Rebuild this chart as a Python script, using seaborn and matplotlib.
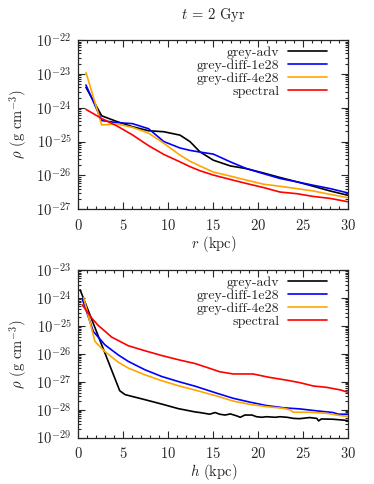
import numpy as np
import pandas as pd
import matplotlib
matplotlib.use("Agg")
import matplotlib.pyplot as plt
from matplotlib.ticker import MultipleLocator, LogLocator, NullFormatter
import seaborn as sns

sns.set_style("ticks")
plt.rcParams["font.family"] = "serif"
plt.rcParams["font.serif"] = ["cmr10"]
plt.rcParams["mathtext.fontset"] = "cm"
plt.rcParams["axes.formatter.use_mathtext"] = True

labels = ["grey-adv", "grey-diff-1e28", "grey-diff-4e28", "spectral"]
colors = ["black", "#0000ff", "#ffa500", "#ff0000"]

# top panel: density vs radius r (kpc), values are log10(rho)
r_top = [0.85, 2.6, 4.3, 6.0, 7.8, 9.5, 11.3, 12.4, 13.5, 15.0, 16.9, 18.7,
         20.6, 22.4, 24.3, 26.1, 28.0, 30.0]
top_adv = [-23.40, -24.24, -24.41, -24.56, -24.68, -24.71, -24.81, -25.00, -25.30,
           -25.55, -25.72, -25.80, -25.93, -26.06, -26.19, -26.32, -26.46, -26.59]
top_d1 = [-23.33, -24.38, -24.44, -24.47, -24.62, -25.00, -25.19, -25.26, -25.31,
          -25.37, -25.60, -25.80, -25.95, -26.09, -26.19, -26.29, -26.39, -26.52]
top_d4 = [-22.96, -24.51, -24.48, -24.58, -24.75, -25.05, -25.40, -25.58, -25.72,
          -25.90, -26.02, -26.14, -26.26, -26.32, -26.39, -26.46, -26.56, -26.66]
top_spec = [-24.05, -24.32, -24.54, -24.80, -25.12, -25.38, -25.60, -25.74, -25.86,
            -25.99, -26.12, -26.24, -26.36, -26.49, -26.54, -26.62, -26.68, -26.78]

# bottom panel: density vs height h (kpc), values are log10(rho)
h_adv = [0.2, 4.6, 5.2, 7.4, 9.3, 11.1, 13.0, 13.5, 14.6, 15.2, 15.7, 16.3, 16.9,
         17.6, 18.0, 18.5, 19.3, 19.8, 20.4, 20.9, 21.9, 22.4, 23.2, 23.9, 24.6,
         25.7, 26.5, 26.7, 27.0, 28.3, 29.4, 30.0]
bot_adv = [-23.71, -27.32, -27.46, -27.64, -27.80, -27.96, -28.08, -28.10, -28.16,
           -28.10, -28.16, -28.19, -28.15, -28.22, -28.27, -28.19, -28.19, -28.25,
           -28.27, -28.25, -28.27, -28.25, -28.27, -28.31, -28.32, -28.28, -28.31,
           -28.40, -28.33, -28.34, -28.37, -28.39]
h_d1 = [0.45, 1.67, 2.96, 4.44, 5.55, 7.4, 9.26, 11.1, 13.0, 15.4, 17.2, 19.1,
        20.9, 22.8, 24.6, 26.5, 28.3, 28.9, 30.0]
bot_d1 = [-24.05, -25.20, -25.68, -26.04, -26.27, -26.57, -26.81, -26.99, -27.16,
          -27.41, -27.59, -27.73, -27.85, -27.93, -27.97, -28.04, -28.10, -28.16, -28.16]
h_d4 = [0.6, 1.85, 2.96, 4.44, 5.55, 7.4, 9.26, 11.1, 13.0, 15.4, 17.2, 19.1,
        20.9, 22.8, 23.5, 23.9, 25.7, 27.6, 29.1, 30.0]
bot_d4 = [-24.00, -25.56, -25.92, -26.30, -26.51, -26.75, -26.96, -27.14, -27.30,
          -27.51, -27.69, -27.81, -27.89, -27.95, -28.00, -28.09, -28.09, -28.13,
          -28.21, -28.24]
h_spec = [0.44, 1.48, 2.2, 3.7, 5.55, 7.4, 9.26, 11.1, 13.0, 14.6, 15.7, 17.2,
          18.3, 19.4, 20.0, 21.2, 23.1, 24.6, 26.1, 27.6, 29.1, 30.0]
bot_spec = [-24.25, -24.72, -24.98, -25.40, -25.71, -25.89, -26.06, -26.21, -26.35,
            -26.52, -26.64, -26.72, -26.72, -26.72, -26.76, -26.84, -26.94, -27.03,
            -27.15, -27.20, -27.29, -27.38]


def long_df(xs, ys, xname):
    parts = []
    for lab, x, y in zip(labels, xs, ys):
        parts.append(pd.DataFrame({xname: x, "rho": 10.0 ** np.array(y), "run": lab}))
    return pd.concat(parts, ignore_index=True)


df_top = long_df([r_top] * 4, [top_adv, top_d1, top_d4, top_spec], "r")
df_bot = long_df([h_adv, h_d1, h_d4, h_spec], [bot_adv, bot_d1, bot_d4, bot_spec], "h")

fig = plt.figure(figsize=(3.74, 4.84), dpi=100)
ax1 = fig.add_axes([0.2094, 0.5676, 0.7219, 0.3498])
ax2 = fig.add_axes([0.2094, 0.0957, 0.7219, 0.3465])

pal = dict(zip(labels, colors))
sns.lineplot(data=df_top, x="r", y="rho", hue="run", palette=pal, lw=1.2, ax=ax1)
sns.lineplot(data=df_bot, x="h", y="rho", hue="run", palette=pal, lw=1.2, ax=ax2)

fs = 10.5
for ax, xlab, ylim in [(ax1, r"$r$ (kpc)", (1e-27, 1e-22)), (ax2, r"$h$ (kpc)", (1e-29, 1e-23))]:
    ax.set_yscale("log")
    ax.set_xlim(0, 30)
    ax.set_ylim(*ylim)
    ax.xaxis.set_major_locator(MultipleLocator(5))
    ax.xaxis.set_minor_locator(MultipleLocator(1))
    ax.yaxis.set_major_locator(LogLocator(base=10, numticks=20))
    ax.yaxis.set_minor_locator(LogLocator(base=10, subs=np.arange(2, 10), numticks=20))
    ax.yaxis.set_minor_formatter(NullFormatter())
    ax.tick_params(which="both", direction="in", top=True, right=True, labelsize=fs, width=0.8)
    ax.tick_params(which="major", length=5)
    ax.tick_params(which="minor", length=2.5)
    ax.tick_params(axis="x", which="major", pad=6)
    ax.tick_params(axis="y", which="major", pad=5)
    for s in ax.spines.values():
        s.set_linewidth(0.9)
    ax.set_xlabel(xlab, fontsize=fs, labelpad=1)
    ax.set_ylabel(r"$\rho$ (g cm$^{-3}$)", fontsize=fs, labelpad=5)
    ax.legend(loc="upper right", bbox_to_anchor=(0.94, 0.995), frameon=False,
              markerfirst=False, fontsize=10, handlelength=2.8, handletextpad=0.6,
              labelspacing=0.02, borderaxespad=0.0, title=None)

ax1.set_title(r"$t$ = 2 Gyr", fontsize=fs, pad=15)

fig.savefig("out.png", dpi=100)
